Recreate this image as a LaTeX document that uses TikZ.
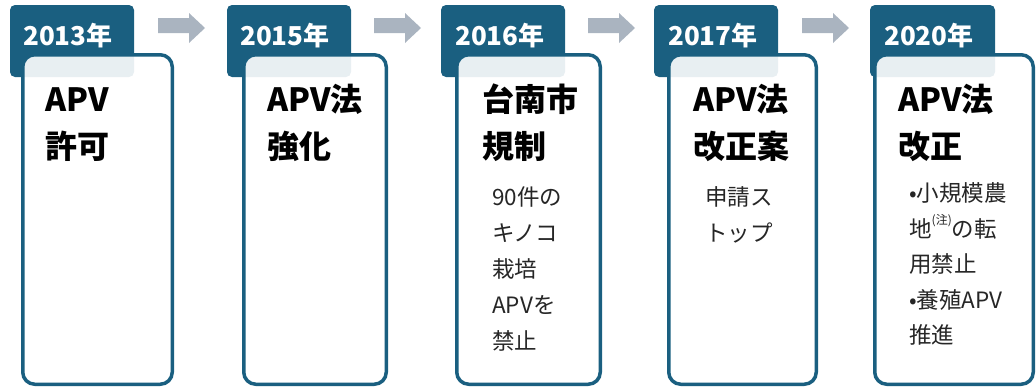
\documentclass[tikz,border=0pt]{standalone}
\usepackage{fontspec}
\setmainfont{Noto Sans CJK JP}
\definecolor{tabblue}{HTML}{1A5F80}
\definecolor{arrowgray}{HTML}{AAB4C0}
\definecolor{bodytext}{HTML}{262626}
\tikzset{
  tabbox/.style={fill=tabblue, rounded corners=5pt, inner sep=0pt, minimum height=72pt},
  card/.style={draw=tabblue, line width=3.5pt, fill=white, fill opacity=0.9, rounded corners=12pt, inner sep=0pt, minimum height=329.5pt},
  year/.style={text=white, font=\fontsize{26}{26}\selectfont\bfseries, anchor=base west, inner sep=0pt},
  title/.style={font=\fontsize{32}{32}\selectfont\bfseries, anchor=base west, inner sep=0pt},
  body/.style={text=bodytext, font=\fontsize{22.5}{22.5}\selectfont, anchor=base west, inner sep=0pt},
  flowarrow/.style={fill=arrowgray},
}
\newcommand{\flowarr}[1]{%
  \fill[flowarrow] (#1,18) -- (#1+31,18) -- (#1+31,13) -- (#1+47,28) -- (#1+31,43) -- (#1+31,33) -- (#1,33) -- cycle;}
\begin{document}
\begin{tikzpicture}[x=1pt,y=-1pt]
\useasboundingbox (0,0) rectangle (1036,388);
% arrows
\flowarr{158}
\flowarr{374}
\flowarr{588}
\flowarr{802}
% tabs
\node[tabbox, minimum width=124pt] (tab1) at (72,41) {};
\node[tabbox, minimum width=124pt] (tab2) at (289,41) {};
\node[tabbox, minimum width=124pt] (tab3) at (503,41) {};
\node[tabbox, minimum width=124pt] (tab4) at (716,41) {};
\node[tabbox, minimum width=125pt] (tab5) at (932.5,41) {};
\node[year] (y1) at (23,45) {2013年};
\node[year] (y2) at (240,45) {2015年};
\node[year] (y3) at (455,45) {2016年};
\node[year] (y4) at (668,45) {2017年};
\node[year] (y5) at (884,45) {2020年};
% cards
\node[card, minimum width=149.5pt] (card1) at (97.5,219.5) {};
\node[card, minimum width=142.5pt] (card2) at (315,219.5) {};
\node[card, minimum width=143.5pt] (card3) at (528.5,219.5) {};
\node[card, minimum width=147.5pt] (card4) at (742.5,219.5) {};
\node[card, minimum width=158.5pt] (card5) at (954,219.5) {};
% titles
\node[title] (t1a) at (45,111) {APV};
\node[title] (t1b) at (45,158) {許可};
\node[title] (t2a) at (267,111) {APV法};
\node[title] (t2b) at (267,158) {強化};
\node[title] (t3a) at (482,111) {台南市};
\node[title] (t3b) at (482,158) {規制};
\node[title] (t4a) at (693,111) {APV法};
\node[title] (t4b) at (693,158) {改正案};
\node[title] (t5a) at (898,111) {APV法};
\node[title] (t5b) at (898,158) {改正};
% body texts
\node[body] (b3a) at (492,205) {90件の};
\node[body] (b3b) at (492,241) {キノコ};
\node[body] (b3c) at (492,277) {栽培};
\node[body] (b3d) at (492,313) {APVを};
\node[body] (b3e) at (492,349.5) {禁止};
\node[body] (b4a) at (705,205) {申請ス};
\node[body] (b4b) at (705,241) {トップ};
\node[body] (b5a) at (909,201.5) {•小規模農};
\node[body] (b5b) at (909,237) {地\raisebox{13pt}{\fontsize{12}{12}\selectfont (注)}の転};
\node[body] (b5c) at (909,272.5) {用禁止};
\node[body] (b5d) at (909,308) {•養殖APV};
\node[body] (b5e) at (909,343) {推進};
\end{tikzpicture}
\end{document}
